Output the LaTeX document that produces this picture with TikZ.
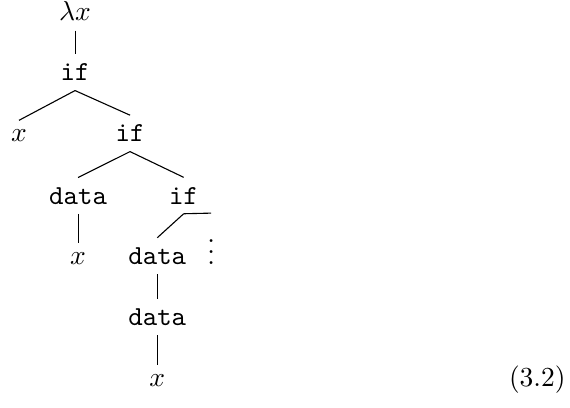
\documentclass[tikz,border=0pt]{standalone}
\usetikzlibrary{positioning}
\tikzset{
    %Define style for tree labels
    term/.style={
           anchor=base},
    %Define style for tree edges
    branch/.style={
           draw=black,
           thin}
}
\begin{document}
\begin{tikzpicture}
 %frame
    \useasboundingbox (-27.3pt,7.6pt) rectangle (180pt,-140.7pt);
 %nodes
    \node[term] (lam) at (0,0) {$\lambda x$};
    \node[term] (if1) at ([shift={(0pt,-21.8pt)}]lam.base) {\texttt{if}};
    \node[term] (x1) at ([shift={(-20.4pt,-22.2pt)}]if1.base) {$x$};
    \node[term] (if2) at ([shift={(20pt,-22.2pt)}]if1.base) {\texttt{if}};
    \node[term] (dat1) at ([shift={(-18.9pt,-22.6pt)}]if2.base) {\texttt{data}};
    \node[term] (if3) at ([shift={(19.5pt,-22.6pt)}]if2.base) {\texttt{if}};
    \node[term] (x2) at ([shift={(0pt,-21.9pt)}]dat1.base) {$x$};
    \node[term] (dat2) at ([shift={(-9.6pt,-21.9pt)}]if3.base) {\texttt{data}};
    \node[term] (vd) at ([shift={(10pt,-21.9pt)}]if3.base) {$\vdots$};
    \node[term] (dat3) at ([shift={(0pt,-22.2pt)}]dat2.base) {\texttt{data}};
    \node[term] (x3) at ([shift={(0pt,-22.2pt)}]dat3.base) {$x$};
    \node[term] (eqno) at ([shift={(138.2pt,0pt)}]x3.base) {(3.2)};
 %edges
    \draw[branch] (lam.south) -- (if1.north);
    \draw[branch] (if1.south) -- (x1.north);
    \draw[branch] (if1.south) -- (if2.north);
    \draw[branch] (if2.south) -- (dat1.north);
    \draw[branch] (if2.south) -- (if3.north);
    \draw[branch] (dat1.south) -- (x2.north);
    \draw[branch] (if3.south) -- (dat2.north);
    \draw[branch] (if3.south) -- (vd.north);
    \draw[branch] (dat2.south) -- (dat3.north);
    \draw[branch] (dat3.south) -- (x3.north);
\end{tikzpicture}
\end{document}
